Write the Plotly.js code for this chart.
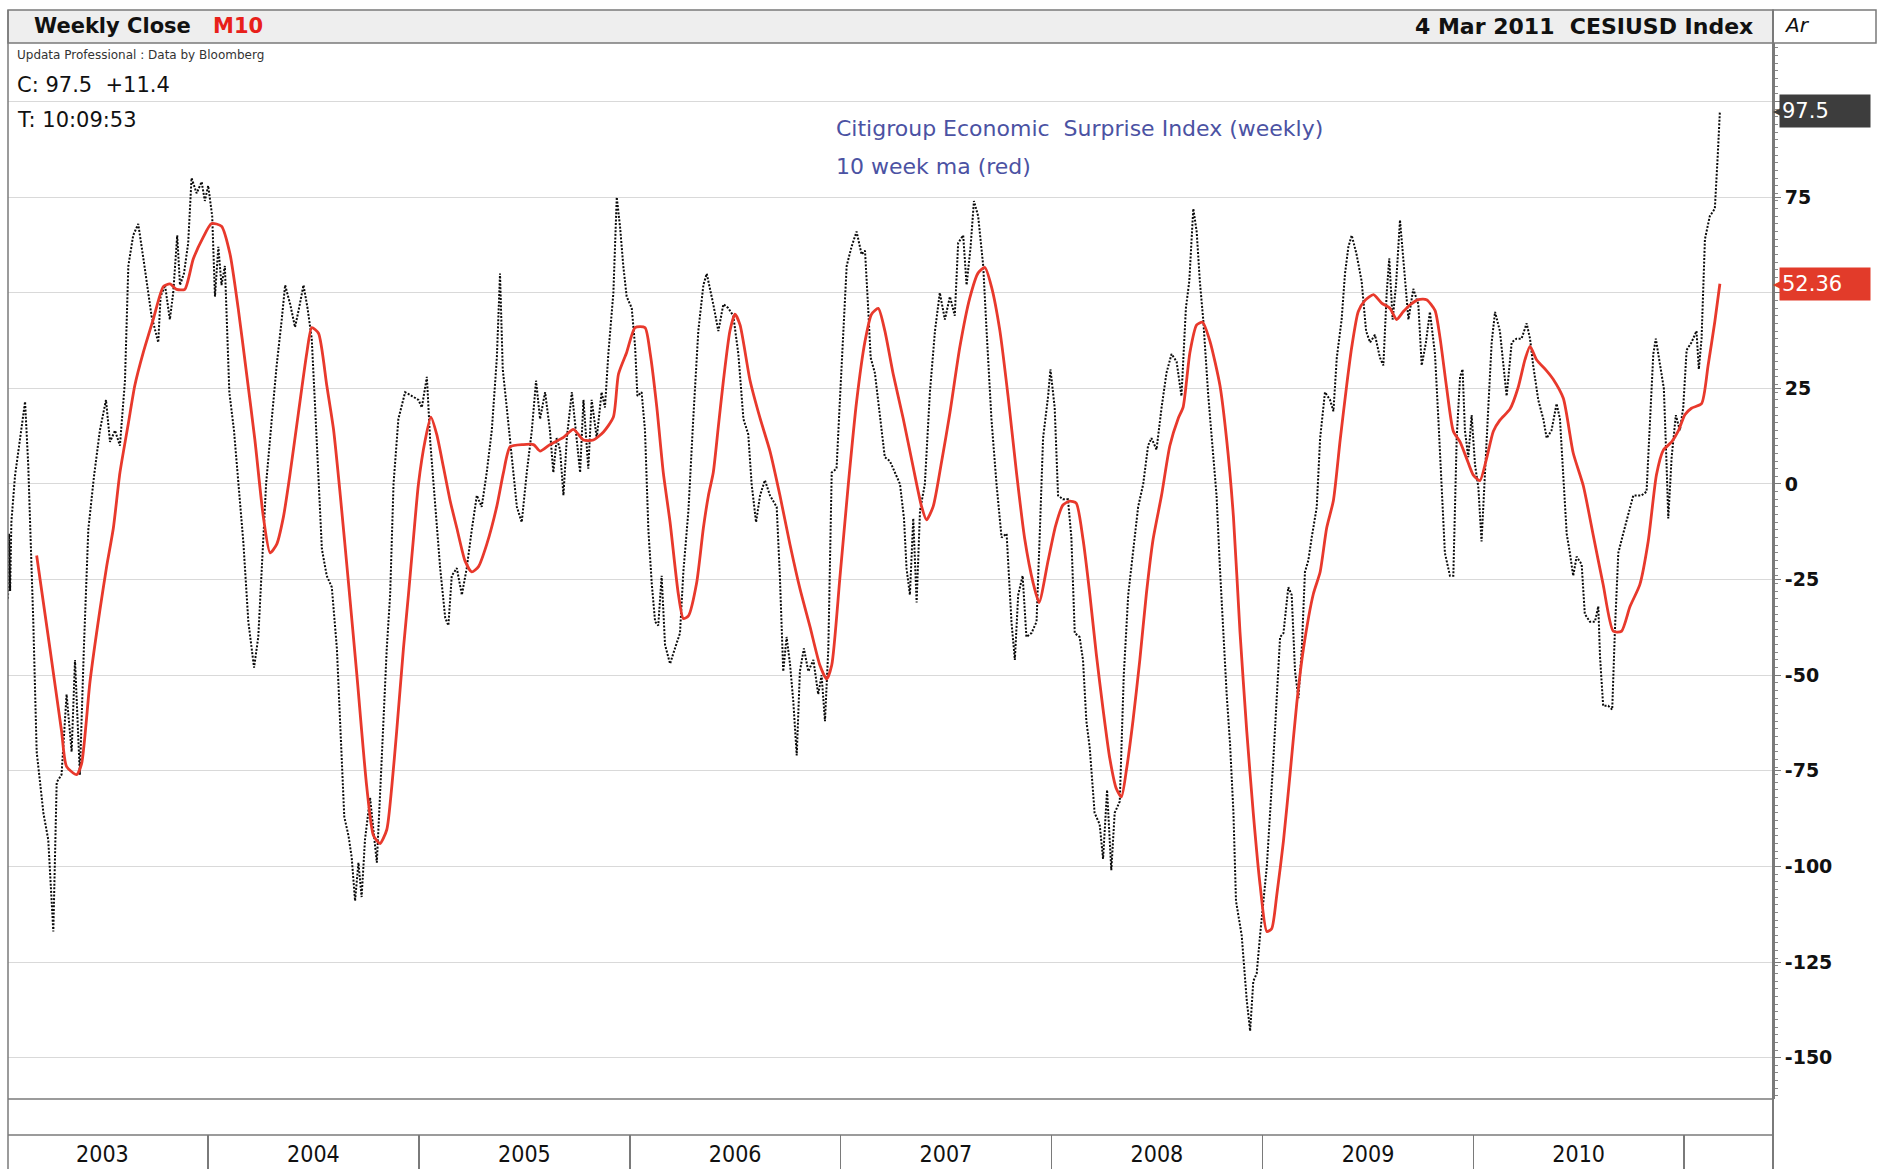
<!DOCTYPE html>
<html><head><meta charset="utf-8">
<script src="https://cdn.plot.ly/plotly-3.0.1.min.js"></script>
<style>html,body{margin:0;padding:0;background:#fff;} #chart{width:1877px;height:1169px;}</style>
</head><body><div id="chart"></div>
<script>
// Weekly close of CESIUSD Index (decimal year, value)
const blackT = [2003.052,2003.057,2003.062,2003.068,2003.085,2003.109,2003.133,2003.148,2003.172,2003.188,2003.220,2003.243,2003.267,2003.283,2003.306,2003.330,2003.354,2003.370,2003.393,2003.412,2003.433,2003.460,2003.488,2003.517,2003.536,2003.560,2003.583,2003.607,2003.623,2003.646,2003.670,2003.697,2003.733,2003.765,2003.776,2003.797,2003.820,2003.836,2003.855,2003.868,2003.887,2003.907,2003.923,2003.947,2003.971,2003.986,2004.002,2004.021,2004.034,2004.050,2004.065,2004.081,2004.102,2004.124,2004.144,2004.168,2004.192,2004.219,2004.239,2004.255,2004.276,2004.303,2004.326,2004.350,2004.366,2004.390,2004.413,2004.432,2004.453,2004.472,2004.492,2004.508,2004.524,2004.540,2004.563,2004.587,2004.611,2004.630,2004.646,2004.666,
2004.681,2004.697,2004.713,2004.728,2004.744,2004.768,2004.784,2004.800,2004.823,2004.847,2004.863,2004.879,2004.902,2004.934,2004.966,2004.997,2005.013,2005.037,2005.053,2005.076,2005.100,2005.124,2005.139,2005.155,2005.179,2005.203,2005.226,2005.250,2005.274,2005.297,2005.321,2005.345,2005.369,2005.384,2005.397,2005.416,2005.440,2005.464,2005.487,2005.511,2005.535,2005.555,2005.574,2005.598,2005.621,2005.637,2005.653,2005.669,2005.685,2005.701,2005.725,2005.740,2005.764,2005.780,2005.803,2005.819,2005.843,2005.866,2005.882,2005.898,2005.922,2005.938,2005.954,2005.969,2005.985,2006.009,2006.025,2006.036,2006.056,2006.072,2006.088,2006.104,2006.120,2006.135,2006.151,2006.167,2006.191,2006.214,2006.238,2006.254,2006.278,2006.301,2006.325,2006.349,
2006.365,2006.396,2006.420,2006.444,2006.467,2006.491,2006.515,2006.539,2006.562,2006.578,2006.599,2006.618,2006.641,2006.665,2006.697,2006.712,2006.728,2006.744,2006.760,2006.776,2006.792,2006.807,2006.826,2006.847,2006.871,2006.894,2006.910,2006.926,2006.942,2006.958,2006.981,2006.997,2007.013,2007.029,2007.052,2007.076,2007.100,2007.116,2007.131,2007.143,2007.163,2007.187,2007.210,2007.234,2007.258,2007.282,2007.301,2007.313,2007.329,2007.345,2007.361,2007.377,2007.400,2007.424,2007.448,2007.471,2007.495,2007.519,2007.542,2007.558,2007.582,2007.598,2007.617,2007.633,2007.653,2007.677,2007.693,2007.716,2007.740,2007.764,2007.788,2007.811,2007.827,2007.843,2007.864,2007.882,2007.906,2007.930,2007.946,2007.961,2007.985,2007.996,
2008.016,2008.032,2008.055,2008.079,2008.095,2008.111,2008.134,2008.150,2008.166,2008.182,2008.205,2008.229,2008.245,2008.264,2008.284,2008.300,2008.324,2008.343,2008.364,2008.387,2008.411,2008.435,2008.458,2008.474,2008.498,2008.522,2008.545,2008.569,2008.593,2008.616,2008.637,2008.653,2008.672,2008.688,2008.703,2008.719,2008.743,2008.767,2008.782,2008.798,2008.814,2008.830,2008.846,2008.862,2008.874,2008.890,2008.901,2008.925,2008.941,2008.956,2008.972,2008.988,2009.020,2009.051,2009.083,2009.099,2009.122,2009.138,2009.154,2009.170,2009.186,2009.201,2009.217,2009.233,2009.249,2009.257,2009.273,2009.296,2009.320,2009.336,2009.352,2009.375,2009.391,2009.407,2009.423,2009.446,2009.470,2009.491,2009.510,2009.533,2009.557,2009.573,2009.589,2009.601,2009.617,2009.633,2009.652,
2009.668,2009.692,2009.715,2009.739,2009.755,2009.775,2009.794,2009.818,2009.834,2009.850,2009.865,2009.889,2009.905,2009.921,2009.937,2009.949,2009.960,2009.976,2009.992,2010.008,2010.024,2010.039,2010.055,2010.071,2010.087,2010.103,2010.126,2010.142,2010.158,2010.182,2010.205,2010.229,2010.253,2010.269,2010.284,2010.308,2010.332,2010.348,2010.371,2010.395,2010.411,2010.427,2010.443,2010.458,2010.474,2010.490,2010.514,2010.529,2010.553,2010.577,2010.593,2010.601,2010.616,2010.640,2010.659,2010.672,2010.688,2010.711,2010.735,2010.759,2010.775,2010.798,2010.822,2010.838,2010.854,2010.866,2010.885,2010.904,2010.917,2010.925,2010.941,2010.961,2010.980,2010.996,2011.012,2011.035,2011.059,2011.070,2011.083,2011.099,2011.122,2011.146,2011.160,2011.170];
const blackV = [-30,-13,-28,-10,2,12,21.5,5,-36,-70,-86,-93,-117,-78,-76,-55,-70,-46,-76,-43,-12,2,14,22,11,14,10,27,57,65,68,58,44,37,49,52,43,50,65,52,55,63,80,76,79,74,78,70,49,62,52,57,24,14,0,-15,-36,-48,-40,-22,0,17,31,43,52,47,41,46,52,46,38,20,0,-17,-24,-27,-43,-65,-87,-92,
-97.6,-109,-99,-108,-93,-82,-90,-99,-72,-43,-29,0,17,24,23,22,20,28,11,-4,-22,-35,-37,-24,-22,-29,-22,-12,-3,-6,3,14,33,55,30,20,6,-6,-10,3,14,27,17,24,14,3,12,9,-3,12,24,16,3,22,4,22,12,24,20,34,50,75,67,57,49,46,36,23,24,14,-12,-26,-36,-37,-24,-42,-47,-43,-39,-23,-7,17,40,52,
55,47,40,47,46,44,34,17,13,0,-10,-3,1,-3,-6,-24,-49,-40,-47,-57,-71,-49,-43,-49,-46,-55,-50,-62,-43,3,4,22,40,57,62,66,60,61,46,33,29,17,7,6,3,0,-9,-22,-29,-9,-31,-7,0,24,40,50,43,49,44,63,65,52,62,74,70,57,40,17,0,-14,-13,-36,-46,-29,-24,-40,-39,-36,-12,12,23,30,
20,-3,-4,-4,-14,-39,-40,-46,-62,-69,-86,-89,-98,-80,-101,-86,-83,-50,-29,-17,-6,0,10,12,9,20,29,34,32,23,46,53,72,66,53,43,23,7,-3,-22,-40,-55,-68,-86,-109,-115,-118,-135,-143,-130,-128,-118,-100,-72,-40,-39,-27,-29,-49,-56,-43,-23,-20,-14,-9,-6,12,24,22,19,33,43,55,62,65,60,53,40,37,39,33,31,50,59,43,52,69,
58,43,51,47,31,37,45,34,17,-2,-18,-24,-24,12,28,30,14,7,18,5,-1,-15,1,20,37,45,40,31,23,37,38,38,42,38,31,22,17,12,14,21,17,2,-13,-18,-24,-19,-21,-34,-36,-36,-32,-45,-58,-58,-59,-38,-18,-13,-8,-3,-3,-3,-2,17,34,38,31,25,5,-9,7,18,14,20,35,37,40,30,38,64,70,72,86.1,97.5];

// 10 week moving average (red)
const maT = [2003.188,2003.251,2003.306,2003.330,2003.378,2003.401,2003.441,2003.488,2003.520,2003.552,2003.583,2003.623,2003.654,2003.694,2003.741,2003.789,2003.820,2003.852,2003.891,2003.931,2003.978,2004.018,2004.065,2004.105,2004.144,2004.184,2004.223,2004.263,2004.295,2004.326,2004.358,2004.390,2004.429,2004.469,2004.492,2004.524,2004.563,2004.595,2004.627,2004.666,2004.706,2004.752,2004.784,2004.815,2004.847,2004.871,2004.894,2004.926,2004.950,2004.973,2004.997,2005.029,2005.056,2005.084,2005.116,2005.147,2005.179,2005.218,2005.250,2005.282,2005.321,2005.369,2005.400,2005.432,2005.495,2005.543,2005.574,2005.621,2005.685,2005.732,2005.780,2005.827,2005.875,2005.922,2005.946,2005.985,2006.025,2006.072,2006.096,2006.128,2006.159,2006.191,2006.230,2006.254,2006.278,2006.317,2006.349,2006.373,2006.396,2006.420,2006.444,2006.475,2006.499,2006.523,2006.570,2006.618,2006.665,2006.712,2006.760,2006.807,2006.855,2006.902,2006.934,2006.958,2006.997,2007.037,2007.076,2007.116,2007.147,2007.179,2007.210,2007.250,2007.297,2007.345,2007.384,2007.408,2007.440,2007.479,2007.519,2007.566,2007.614,2007.653,2007.685,2007.716,2007.756,2007.795,2007.835,2007.874,2007.914,2007.942,2007.985,2008.020,2008.055,2008.087,2008.118,2008.150,2008.182,2008.213,2008.245,2008.277,2008.308,2008.332,2008.356,2008.387,2008.419,2008.450,2008.482,2008.522,2008.561,2008.601,2008.624,2008.656,2008.688,2008.716,2008.751,2008.798,2008.830,2008.862,2008.893,2008.925,2008.956,2008.988,2009.020,2009.043,2009.067,2009.099,2009.130,2009.162,2009.194,2009.241,2009.273,2009.304,2009.336,2009.368,2009.399,2009.423,2009.454,2009.486,2009.526,2009.565,2009.605,2009.636,2009.668,2009.699,2009.739,2009.778,2009.818,2009.842,2009.873,2009.905,2009.937,2009.968,2009.999,2010.031,2010.063,2010.095,2010.126,2010.174,2010.213,2010.245,2010.269,2010.300,2010.348,2010.379,2010.427,2010.474,2010.522,2010.569,2010.616,2010.664,2010.703,2010.743,2010.790,2010.830,2010.869,2010.901,2010.941,2010.972,2011.004,2011.035,2011.083,2011.114,2011.146,2011.170];
const maV = [-18.7,-43,-64.6,-73.9,-76,-73.2,-51.7,-33,-21.6,-11.5,2.9,15.8,25.8,34.4,43,51.6,52.3,50.9,50.9,58.8,64.5,68.1,67.4,60.2,45.9,28.7,11.5,-8.6,-18,-15.8,-8.6,2.9,18.6,34.4,40.9,39.4,25.8,14.3,-2.9,-25.9,-50.2,-79,-91.9,-94,-90.4,-79,-64.6,-43,-28.7,-14.4,0,11.5,17.5,12.9,4.3,-4.3,-11.5,-20.1,-23,-21.6,-15.8,-5.8,2.9,9.7,10.3,10.3,8.6,10.3,12.2,14.3,11.5,11.5,13.6,17.5,28.7,34.4,40.9,40.9,34.4,20.1,2.9,-10,-28.7,-35.2,-34.5,-25.9,-11.5,-3,3,15,27,40,44.4,41.6,27.2,17.2,8.6,-2.9,-15.8,-27.3,-37.3,-47.4,-51,-47.4,-24.4,0,21.5,37.3,44.4,45.9,40.1,28.7,17.2,4.3,-5.8,-9.4,-5.8,5.7,18.6,35.8,48.8,55.2,56.6,51.6,40.1,22.9,2.9,-14.4,-25.9,-31,-20,-11,-5.5,-4.5,-5,-14.4,-28.7,-44.5,-58.9,-71.8,-79.7,-81.8,-74.6,-61.7,-46,-28.7,-14.4,-2.9,10,17.2,20.1,34.4,41.6,42.3,37.3,25.8,11.5,-8.6,-38.7,-64.6,-86.1,-104.8,-117,-116.3,-107.6,-93.3,-76,-57.4,-43,-28.7,-23,-11.5,-4.3,11.5,25.8,35.8,45.1,48,49.5,47.3,45.9,43,45.1,46.8,48.2,48.2,45.4,38.2,25.3,13.8,11,6.7,2.4,0.9,6.7,13.8,16.7,19.6,25.3,32.5,36,32.5,29.6,27.4,22.4,8.1,-0.5,-13.4,-26.3,-38.5,-38.5,-32.1,-26.3,-14.9,2.4,8.8,11,13.8,18.1,19.8,21,31,42.5,52.36];

const yTickVals = [-150,-125,-100,-75,-50,-25,0,25,50,75,100];
const yTickText = ['-150','-125','-100','-75','-50','-25','0','25','','75',''];
const lastClose = 97.5, lastChange = 11.4, lastMA = 52.36;
const xStart = 2003.052, xEnd = 2011.422;

function toDate(t){
  const y = Math.floor(t);
  const a = Date.UTC(y,0,1), b = Date.UTC(y+1,0,1);
  return new Date(a + (t-y)*(b-a)).toISOString().slice(0,19).replace('T',' ');
}

const W=1877,H=1169,L=8,R=104,T=43,B=0;
const pw=W-L-R, ph=H-T-B;
const px = fx => (fx-L)/pw;
const py = fy => (H-B-fy)/ph;

const UI = 'DejaVu Sans, Verdana, sans-serif';
const COND = 'DejaVu Sans Condensed, Liberation Sans Narrow, DejaVu Sans, sans-serif';
const lineCol = '#7a7a7a';

const traces = [
  {x: blackT.map(toDate), y: blackV, type:'scatter', mode:'lines',
   line:{color:'#0a0a0a', width:2, dash:'2px,1.6px'}, hoverinfo:'skip'},
  {x: maT.map(toDate), y: maV, type:'scatter', mode:'lines',
   line:{color:'#e8392c', width:2.8, shape:'spline', smoothing:0.6}, hoverinfo:'skip'}
];

function txt(text, fx, fy, opts){
  return Object.assign({text, xref:'paper', yref:'paper', x:px(fx), y:py(fy),
    xanchor:'left', yanchor:'middle', showarrow:false,
    font:{family:UI, size:19, color:'#111'}}, opts||{});
}

const annotations = [
  txt('<b>Weekly Close</b>', 32, 26, {font:{family:UI,size:21,color:'#111'}}),
  txt('<b>M10</b>', 211, 26, {font:{family:UI,size:21,color:'#e8201a'}}),
  txt('<b>4 Mar 2011&nbsp;&nbsp;CESIUSD Index</b>', 1755, 26, {xanchor:'right', font:{family:UI,size:22,color:'#111'}}),
  txt('Ar', 1782, 25, {font:{family:UI,size:20,color:'#111',style:'italic'}}),
  txt('Updata Professional : Data by Bloomberg', 15, 55, {font:{family:UI,size:12,color:'#333'}}),
  txt('C: ' + lastClose + '&nbsp;&nbsp;+' + lastChange, 15, 85, {font:{family:UI,size:21,color:'#111'}}),
  txt('T: 10:09:53', 15, 120, {font:{family:UI,size:21,color:'#111'}}),
  txt('Citigroup Economic&nbsp; Surprise Index (weekly)', 834, 128, {font:{family:UI,size:22,color:'#4b52a3'}}),
  txt('10 week ma (red)', 834, 166, {font:{family:UI,size:22,color:'#4b52a3'}}),
  // value tags on the right axis
  {text:'◀', xref:'paper', yref:'y', x:px(1771), y:lastClose, xanchor:'left', yanchor:'middle', showarrow:false,
   font:{family:UI,size:15,color:'#3d3d3d'}},
  {text:String(lastClose), xref:'paper', yref:'y', x:px(1779), y:lastClose, xanchor:'left', yanchor:'middle', showarrow:false,
   bgcolor:'#3d3d3d', width:86, height:28, align:'left', borderpad:2, font:{family:UI,size:21,color:'#fff'}},
  {text:'◀', xref:'paper', yref:'y', x:px(1771), y:lastMA, xanchor:'left', yanchor:'middle', showarrow:false,
   font:{family:UI,size:15,color:'#e23b2a'}},
  {text:String(lastMA), xref:'paper', yref:'y', x:px(1779), y:lastMA, xanchor:'left', yanchor:'middle', showarrow:false,
   bgcolor:'#e23b2a', width:86, height:28, align:'left', borderpad:2, font:{family:UI,size:21,color:'#fff'}}
];

const shapes = [
  {type:'rect', xref:'paper', yref:'paper', x0:0, x1:1, y0:py(43), y1:py(10), fillcolor:'#eeeeee', line:{color:lineCol,width:1.5}, layer:'below'},
  {type:'rect', xref:'paper', yref:'paper', x0:1, x1:px(1876), y0:py(43), y1:py(10), fillcolor:'#ffffff', line:{color:lineCol,width:1.5}, layer:'below'},
  {type:'line', xref:'paper', yref:'paper', x0:0, x1:0, y0:0, y1:py(10), line:{color:lineCol,width:1.5}},
  {type:'line', xref:'paper', yref:'paper', x0:1, x1:1, y0:0, y1:py(10), line:{color:lineCol,width:2}},
  {type:'line', xref:'paper', yref:'paper', x0:0, x1:1, y0:py(1099), y1:py(1099), line:{color:lineCol,width:1.5}},
  {type:'line', xref:'paper', yref:'paper', x0:0, x1:1, y0:py(1135), y1:py(1135), line:{color:lineCol,width:1.5}}
];

const layout = {
  width:W, height:H, margin:{l:L, r:R, t:T, b:B},
  paper_bgcolor:'#fff', plot_bgcolor:'#fff', showlegend:false,
  xaxis:{type:'date', range:[toDate(xStart), toDate(xEnd)], anchor:'free', position:0,
    showgrid:false, zeroline:false, showline:false,
    ticks:'inside', ticklen:34, tickwidth:1.5, tickcolor:lineCol,
    dtick:'M12', tick0:'2003-01-01', tickformat:'%Y', ticklabelmode:'period',
    ticklabelposition:'inside', ticklabelstandoff:-30,
    tickfont:{family:COND, size:23, color:'#111'}},
  yaxis:{domain:[py(1099),1], side:'right', range:[-160.8,115.3],
    tickmode:'array', tickvals:yTickVals, ticktext:yTickText,
    showgrid:true, gridcolor:'#d9d9d9', gridwidth:1, zeroline:false,
    showline:true, linecolor:lineCol, linewidth:2,
    ticks:'outside', ticklen:6, tickcolor:lineCol,
    minor:{dtick:2, ticks:'outside', ticklen:3, tickcolor:'#888', showgrid:false},
    tickfont:{family:UI, size:19, color:'#111', weight:'bold'}},
  annotations, shapes
};

Plotly.newPlot('chart', traces, layout, {displayModeBar:false, staticPlot:true});
</script>
</body></html>
